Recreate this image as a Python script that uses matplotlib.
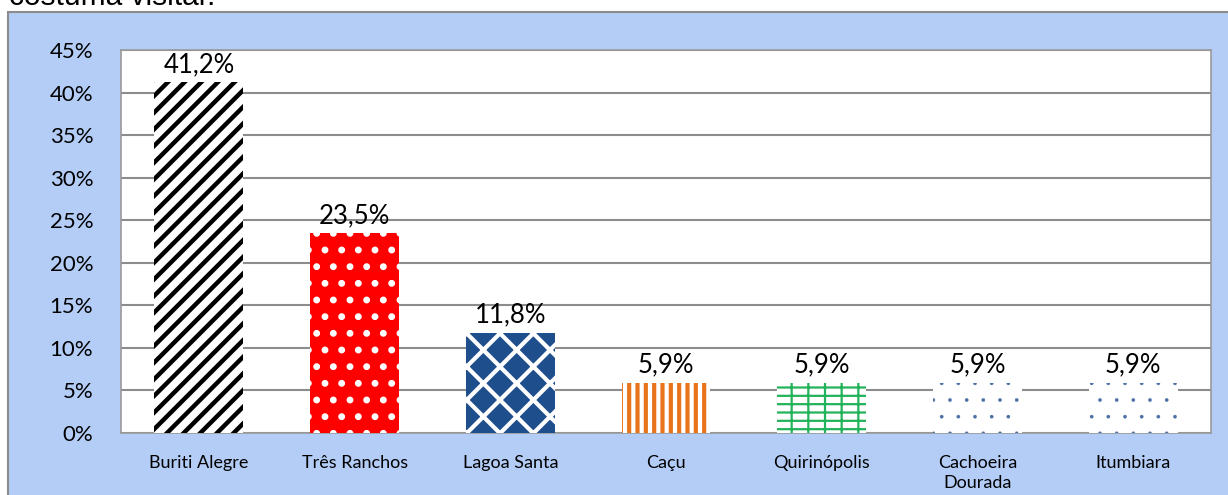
import numpy as np
import matplotlib.pyplot as plt
from matplotlib.patches import Rectangle

cidades = ['Buriti Alegre', 'Três Ranchos', 'Lagoa Santa', 'Caçu',
           'Quirinópolis', 'Cachoeira\nDourada', 'Itumbiara']
valores = [41.2, 23.5, 11.8, 5.9, 5.9, 5.9, 5.9]
rotulos = ['41,2%', '23,5%', '11,8%', '5,9%', '5,9%', '5,9%', '5,9%']
yticks = [0, 5, 10, 15, 20, 25, 30, 35, 40, 45]

# face, hatch, hatch colour, hatch width
estilos = [
    ('white', '//', 'black', 3.2),
    ('#ff0000', '.', 'white', 2.5),
    ('#1f4e8c', 'x', 'white', 3.0),
    ('white', '||', '#e8731a', 3.0),
    ('white', '--|', '#22b35a', 1.6),
    ('white', '.', '#4a6fa5', 0.2),
    ('white', '.', '#4a6fa5', 0.2),
]

plt.rcParams['font.family'] = ['Lato', 'DejaVu Sans']

fig = plt.figure(figsize=(12.28, 4.95), dpi=100)

# blue frame behind the chart
fig.patches.append(Rectangle((8/1228, -0.05), 1.0, 1 - 12/495 + 0.05,
                             transform=fig.transFigure, facecolor='#b3cdf7',
                             edgecolor='#8c8c8c', linewidth=1.5, zorder=-5))
# caption of the page above, cut off at the top edge
fig.text(9/1228, 1 - 5/495, 'costuma visitar.', fontsize=21.5,
         family=['Liberation Sans', 'DejaVu Sans'], va='baseline', ha='left')

ax = fig.add_axes([121/1228, 1 - 433/495, (1211 - 121)/1228, (433 - 50)/495])
ax.set_facecolor('white')
x = np.arange(len(cidades))
for i, (v, est) in enumerate(zip(valores, estilos)):
    face, hatch, hc, hlw = est
    plt.rcParams['hatch.linewidth'] = hlw
    b = ax.bar(x[i], v, width=0.57, color=face, hatch=hatch,
               edgecolor=hc, linewidth=0, zorder=3)
    for p in b:
        try:
            p.set_hatch_linewidth(hlw)
        except AttributeError:
            pass
    ax.text(x[i], v + 0.6, rotulos[i], ha='center', va='bottom', fontsize=18.5)

ax.set_xlim(-0.5, len(cidades) - 0.5)
ax.set_ylim(0, 45)
ax.set_yticks(yticks)
ax.set_yticklabels([f'{t}%' for t in yticks], fontsize=16)
ax.set_xticks(x)
ax.set_xticklabels(cidades, fontsize=13, va='top', linespacing=1.3)
ax.tick_params(axis='y', length=0, pad=20)
ax.tick_params(axis='x', length=0, pad=16)
ax.yaxis.grid(True, color='#8c8c8c', linewidth=1.5, zorder=0)
ax.set_axisbelow(True)
for s in ax.spines.values():
    s.set_color('#9a9a9a')
    s.set_linewidth(1.2)

fig.savefig('out.png', dpi=100)
